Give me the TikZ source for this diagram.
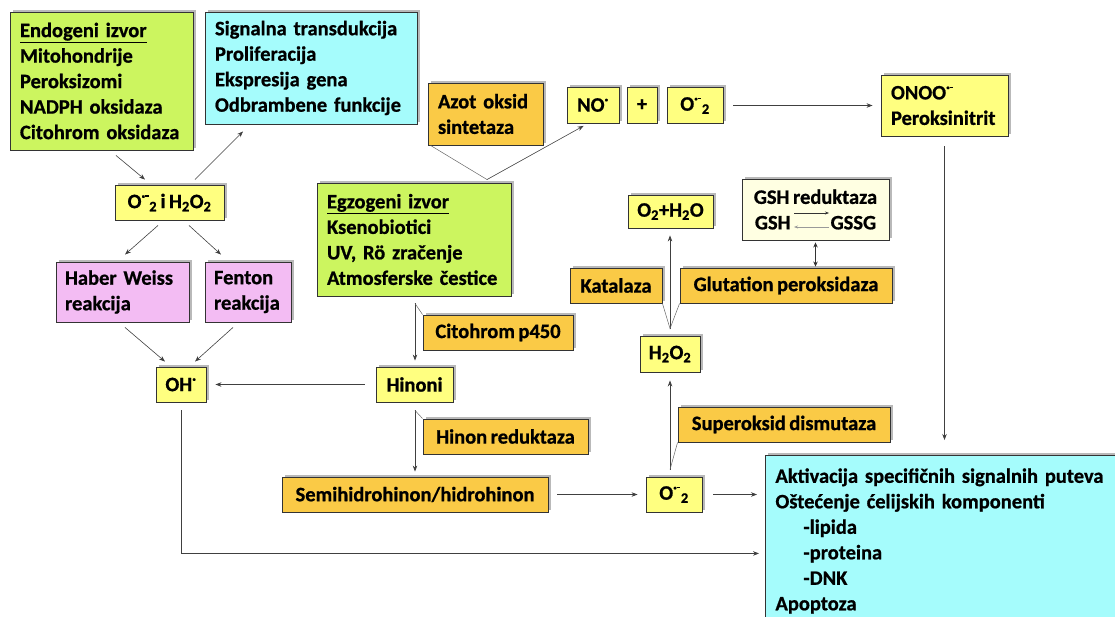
\documentclass[tikz,border=0pt]{standalone}
\usepackage{fontspec}
\setmainfont{Carlito}[WordSpace=0.75, BoldFeatures={FakeBold=0.8}]
\usetikzlibrary{arrows.meta,shadows,calc}
\definecolor{rosfill}{RGB}{255,255,128}
\definecolor{enzfill}{RGB}{250,202,70}
\definecolor{srcfill}{RGB}{204,245,95}
\definecolor{rxnfill}{RGB}{243,188,243}
\definecolor{efffill}{RGB}{165,252,252}
\definecolor{gshfill}{RGB}{255,255,226}
\newcommand{\rad}{\textsuperscript{·}}
\newcommand{\anrad}{\textsuperscript{·\raisebox{0.55ex}{\rule{0.24em}{0.1em}}}}
\newcommand{\sox}{O\anrad\textsubscript{2}}
\tikzset{
	box/.style={draw=black!80, line width=0.9pt, inner xsep=4pt, inner ysep=0pt,
		font=\bfseries\fontsize{20.5}{25.5}\selectfont,
		drop shadow={shadow xshift=2.5pt, shadow yshift=2.5pt, opacity=0.55}},
	multi/.style={align=left, inner xsep=10pt},
	rosbox/.style={box, fill=rosfill},
	enzbox/.style={box, fill=enzfill},
	srcbox/.style={box, fill=srcfill, multi},
	rxnbox/.style={box, fill=rxnfill, multi, inner xsep=9pt},
	effbox/.style={box, fill=efffill, multi},
	gshbox/.style={box, fill=gshfill, align=center},
	arr/.style={draw=black!75, line width=0.6pt, -{Stealth[length=6pt,width=4.5pt]}},
	darr/.style={draw=black!80, line width=0.8pt, {Stealth[length=5pt,width=4.5pt]}-{Stealth[length=5pt,width=4.5pt]}},
	callout/.style={draw=black!60, line width=0.5pt},
}
\begin{document}
\begin{tikzpicture}[x=1pt,y=1pt,yscale=-1,xscale=1]
\useasboundingbox (0,0) rectangle (1115,616);

% sources and radicals
\node[srcbox, text width=163pt, minimum height=138pt] (endo) at (101.5,81) {\underline{Endogeni izvor}\\Mitohondrije\\Peroksizomi\\NADPH oksidaza\\Citohrom oksidaza};
\node[effbox, text width=192pt, minimum height=112pt] (sig) at (311,68) {Signalna transdukcija\\Proliferacija\\Ekspresija gena\\Odbrambene funkcije};
\node[rosbox, minimum width=109pt, minimum height=35pt] (ros) at (169.5,202.5) {\sox\ i H\textsubscript{2}O\textsubscript{2}};
\node[rxnbox, text width=115pt, minimum height=60pt] (haber) at (122.5,292) {Haber Weiss\\reakcija};
\node[rxnbox, text width=68pt, minimum height=60pt] (fenton) at (248,292) {Fenton\\reakcija};
\node[rosbox, minimum width=50pt, minimum height=35pt] (oh) at (181,384.5) {OH\rad};

\node[srcbox, text width=174pt, minimum height=113pt] (egz) at (414,239.5) {\underline{Egzogeni izvor}\\Ksenobiotici\\UV, Rö zračenje\\Atmosferske čestice};
\node[enzbox, multi, text width=95pt, minimum height=62pt] (azot) at (485.5,114) {Azot oksid\\sintetaza};
\node[rosbox, minimum width=52pt, minimum height=36pt] (no) at (593,105) {NO\rad};
\node[rosbox, minimum width=30pt, minimum height=36pt] (plus) at (642,105) {+};
\node[rosbox, minimum width=56pt, minimum height=36pt] (o2t) at (695,105.5) {\sox};
\node[rosbox, multi, text width=107pt, minimum height=61pt] (onoo) at (944.5,105.5) {ONOO\anrad\\Peroksinitrit};

\node[rosbox, minimum width=77pt, minimum height=35pt] (hin) at (414.5,384.5) {Hinoni};
\node[enzbox, minimum width=150pt, minimum height=35pt] (cyt) at (498,332.5) {Citohrom p450};
\node[enzbox, minimum width=165pt, minimum height=35pt] (hred) at (505.5,436.5) {Hinon reduktaza};
\node[enzbox, minimum width=266pt, minimum height=35pt] (semi) at (415,494.5) {Semihidrohinon/hidrohinon};
\node[rosbox, minimum width=56pt, minimum height=35pt] (o2b) at (674,494.5) {\sox};
\node[enzbox, minimum width=212pt, minimum height=35pt] (sod) at (784,424.5) {Superoksid dismutaza};
\node[rosbox, minimum width=60pt, minimum height=36pt] (h2o2) at (670,354) {H\textsubscript{2}O\textsubscript{2}};
\node[enzbox, minimum width=92pt, minimum height=35pt] (kat) at (616,285.5) {Katalaza};
\node[enzbox, minimum width=212pt, minimum height=35pt] (gpx) at (786,285.5) {Glutation peroksidaza};
\node[rosbox, minimum width=85pt, minimum height=33pt] (o2h2o) at (670.5,211.5) {O\textsubscript{2}+H\textsubscript{2}O};
\node[gshbox, minimum width=147pt, minimum height=61pt] (gsh) at (815.5,209.5) {GSH reduktaza\\GSH\hspace{40pt}GSSG};
\node[effbox, anchor=north west, text width=340pt, minimum height=171pt] (eff) at (765,455) {Aktivacija specifičnih signalnih puteva\\Oštećenje ćelijskih komponenti\\\hspace{28pt}-lipida\\\hspace{28pt}-proteina\\\hspace{28pt}-DNK\\Apoptoza};

% left branch
\draw[arr] ($(endo.south)+(14.5,5)$) -- ($(ros.north)+(-24.5,-5)$);
\draw[arr] ($(ros.north)+(25.5,-5)$) -- ($(sig.south)+(-68,7)$);
\draw[arr] ($(ros.south)+(-11.5,5)$) -- ($(haber.north)+(2.5,-7)$);
\draw[arr] ($(ros.south)+(19.5,5)$) -- ($(fenton.north)+(-27,-7)$);
\draw[arr] ($(haber.south)+(2.5,5)$) -- ($(oh.north)+(-16,-5)$);
\draw[arr] ($(fenton.south)+(-15,5)$) -- ($(oh.north)+(14,-5)$);
\draw[arr, shorten <=11pt, shorten >=9pt] (hin.west) -- (oh.east);
\draw[arr, shorten <=8pt] (oh.south) |- ($(eff.west)+(-6,12.5)$);

% exogenous branch
\coordinate (vno) at ($(egz.north)+(73,-3)$);
\draw[arr, shorten >=5pt] (vno) -- ($(no.south)+(-5,0)$);
\draw[callout] ($(azot.south west)+(3,0)$) -- (vno);
\draw[arr, shorten <=10pt, shorten >=8pt] (o2t.east) -- (onoo.west);
\draw[arr, shorten <=10pt, shorten >=15pt] (onoo.south) -- (onoo.south |- eff.north);

\coordinate (vhin) at ($(egz.south)+(1,7)$);
\draw[arr, shorten >=6pt] (vhin) -- (vhin |- hin.north);
\draw[callout] (vhin) -- (cyt.north west);
\coordinate (vsemi) at ($(hin.south)+(0.5,8)$);
\draw[arr, shorten >=5pt] (vsemi) -- (vsemi |- semi.north);
\draw[callout] (vsemi) -- (hred.north west);
\draw[arr, shorten <=9pt, shorten >=8pt] (semi.east) -- (o2b.west);
\draw[arr, shorten <=11pt, shorten >=8pt] (o2b.east) -- (o2b.east -| eff.west);

% dismutation
\coordinate (vsod) at ($(o2b.north)+(-4,-7)$);
\draw[arr, shorten >=8pt] (vsod) -- (vsod |- h2o2.south);
\draw[callout] (vsod) -- (sod.south west);
\coordinate (vkat) at ($(h2o2.north)+(0,-7)$);
\draw[arr, shorten >=7pt] (vkat) -- (vkat |- o2h2o.south);
\draw[callout] (kat.south east) -- (vkat) -- (gpx.south west);
\draw[darr, shorten <=2pt, shorten >=1pt] (gsh.south) -- (gsh.south |- gpx.north);

% GSH <-> GSSG
\coordinate (gsha) at ($(gsh.center)+(-21.5,3.5)$);
\coordinate (gshb) at ($(gsh.center)+(13.5,3.5)$);
\draw[draw=black!80, line width=0.6pt, -{Stealth[length=4pt,width=3pt]}] (gsha) -- (gshb);
\draw[draw=black!40, line width=0.6pt, -{Stealth[length=4pt,width=3pt]}] ($(gshb)+(0,14)$) -- ($(gsha)+(0,14)$);

\end{tikzpicture}
\end{document}
